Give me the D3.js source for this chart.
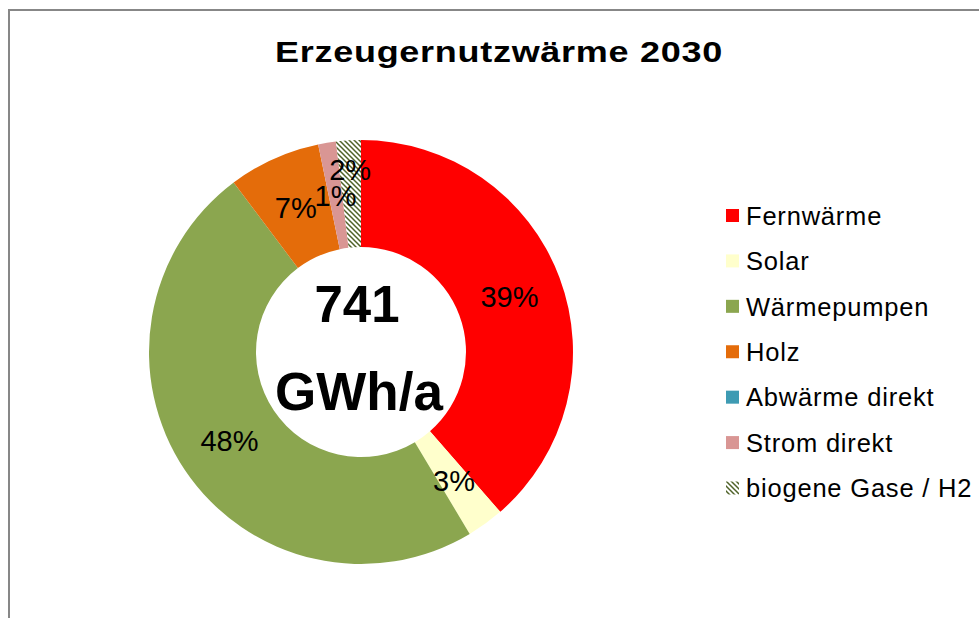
<!DOCTYPE html>
<html><head><meta charset="utf-8">
<script src="https://cdn.jsdelivr.net/npm/d3@7"></script>
<style>
html,body{margin:0;padding:0;background:#fff;}
svg{display:block;font-family:"Liberation Sans",Arial,sans-serif;}
</style></head>
<body>
<svg id="chart" width="979" height="618"></svg>
<script>
const title = "Erzeugernutzwärme 2030";
const categories = ["Fernwärme","Solar","Wärmepumpen","Holz","Abwärme direkt","Strom direkt","biogene Gase / H2"];
const values = [286, 21, 358, 52, 0, 10, 14];  // GWh/a
const colors = ["#FF0000","#FFFFCC","#8BA64F","#E46C0A","#3E9BB3","#D99694","hatch"];
const centerLines = ["741", "GWh/a"];

const W = 979, H = 618;
const svg = d3.select("#chart");
const defs = svg.append("defs");
const pat = defs.append("pattern").attr("id","hatch").attr("patternUnits","userSpaceOnUse")
  .attr("width",5).attr("height",5);
pat.append("rect").attr("width",5).attr("height",5).attr("fill","#fff");
pat.append("path").attr("d","M-1,-1 L6,6 M-1,4 L1,6 M4,-1 L6,1").attr("stroke","#4F6228").attr("stroke-width",1.5);
const fillOf = c => c === "hatch" ? "url(#hatch)" : c;

// frame
svg.append("rect").attr("x",9).attr("y",10).attr("width",1200).attr("height",900)
  .attr("fill","#fff").attr("stroke","#878787").attr("stroke-width",2);

// title (glyphs in the reference are horizontally wide)
const tt = svg.append("text").attr("text-anchor","middle")
  .attr("font-size",30).attr("font-weight","bold").attr("fill","#000")
  .attr("letter-spacing",0.6)
  .attr("transform","translate(499,62) scale(1.2,1)").text(title);

const cx = 361, cy = 352, rOuter = 212, rInner = 105;
const total = d3.sum(values);
const pie = d3.pie().sort(null).value(d => d)(values);
const arc = d3.arc().innerRadius(rInner).outerRadius(rOuter);
const g = svg.append("g").attr("transform",`translate(${cx},${cy})`);
g.selectAll("path.slice").data(pie).join("path").attr("class","slice")
  .attr("d",arc).attr("fill",(d,i)=>fillOf(colors[i]));

// labels
const labelR = (rInner + rOuter)/2;
g.selectAll("text.lbl").data(pie.filter(d=>d.value>0)).join("text").attr("class","lbl")
  .attr("transform",d=>{
    const a = (d.startAngle+d.endAngle)/2;
    const r = d.index === 6 ? labelR + 24 : labelR;
    return `translate(${r*Math.sin(a)},${-r*Math.cos(a)})`;
  })
  .attr("text-anchor","middle").attr("dy","0.36em")
  .attr("font-size",29).attr("fill","#000")
  .text(d=>Math.round(d.value/total*100)+"%");

// center text
g.append("text").attr("x",-4).attr("y",-30).attr("text-anchor","middle")
  .attr("font-size",51).attr("font-weight","bold").text(centerLines[0]);
g.append("text").attr("x",-2).attr("y",58).attr("text-anchor","middle")
  .attr("font-size",53).attr("font-weight","bold").text(centerLines[1]);

// legend
const lg = svg.append("g");
const ly = d3.scalePoint().domain(categories).range([215.5, 488]);
categories.forEach((c,i)=>{
  const y = ly(c);
  lg.append("rect").attr("x",726).attr("y",y-6.5).attr("width",13).attr("height",13)
    .attr("fill",fillOf(colors[i]));
  lg.append("text").attr("x",746).attr("y",y).attr("dy","0.36em")
    .attr("font-size",25.5).attr("letter-spacing",0.8).attr("fill","#000").text(c);
});
</script>
</body></html>
